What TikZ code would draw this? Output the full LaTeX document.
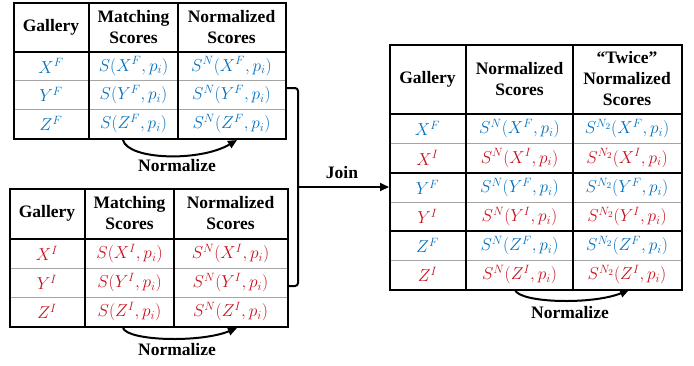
\documentclass[tikz,border=0pt]{standalone}
\usepackage{fontspec}
\setmainfont{Liberation Serif}
\usetikzlibrary{arrows.meta}
\definecolor{fblue}{RGB}{0,112,192}
\definecolor{ired}{RGB}{200,16,30}
\definecolor{gridgray}{RGB}{165,165,165}
\begin{document}
\begin{tikzpicture}[x=1pt,y=-1pt,
  thickline/.style={line width=2pt, draw=black},
  thinline/.style={line width=1pt, draw=gridgray},
  tbox/.style={draw, line width=2pt, inner sep=0pt, anchor=north west},
  hdr/.style={font=\fontsize{17.5}{21}\selectfont\bfseries, align=center, inner sep=0pt},
  cF/.style={font=\fontsize{18}{21}\selectfont, text=fblue, inner sep=0pt},
  cI/.style={font=\fontsize{18}{21}\selectfont, text=ired, inner sep=0pt},
  lbl/.style={font=\fontsize{17.5}{21}\selectfont\bfseries, inner sep=0pt},
  conn/.style={line width=2pt, rounded corners=3pt},
  arr/.style={line width=2pt, -{Triangle[length=9pt,width=8pt]}}]
\useasboundingbox (0,0) rectangle (694,365);
\fill[white] (0,0) rectangle (694,365);

% ---------- Table 1 ----------
\foreach \y in {80,109} \draw[thinline] (13,\y) -- (285,\y);
\node[tbox, minimum width=272pt, minimum height=136pt] (T1) at (13,2) {};
\draw[thickline] (13,52) -- (285,52);
\draw[thickline] (89,2) -- (89,138);
\draw[thickline] (178,2) -- (178,138);
\node[hdr] (t1h1) at (51,27) {Gallery};
\node[hdr] (t1h2) at (133.5,27) {Matching\\Scores};
\node[hdr] (t1h3) at (231.5,27) {Normalized\\Scores};
\node[cF] (t1a1) at (51,66) {$X^F$};
\node[cF] (t1a2) at (133.5,66) {$S(X^F,p_i)$};
\node[cF] (t1a3) at (231.5,66) {$S^N(X^F,p_i)$};
\node[cF] (t1b1) at (51,94.5) {$Y^F$};
\node[cF] (t1b2) at (133.5,94.5) {$S(Y^F,p_i)$};
\node[cF] (t1b3) at (231.5,94.5) {$S^N(Y^F,p_i)$};
\node[cF] (t1c1) at (51,123.5) {$Z^F$};
\node[cF] (t1c2) at (133.5,123.5) {$S(Z^F,p_i)$};
\node[cF] (t1c3) at (231.5,123.5) {$S^N(Z^F,p_i)$};
\coordinate (n1s) at (123,140);
\coordinate (n1e) at (237,140);
\draw[arr] (n1s) .. controls (128,160) and (200,162) .. (n1e);
\node[lbl] (n1l) at (177,166) {Normalize};

% ---------- Table 2 ----------
\foreach \y in {268,297} \draw[thinline] (9,\y) -- (287,\y);
\node[tbox, minimum width=278pt, minimum height=138pt] (T2) at (9,188) {};
\draw[thickline] (9,239) -- (287,239);
\draw[thickline] (85,188) -- (85,326);
\draw[thickline] (174,188) -- (174,326);
\node[hdr] (t2h1) at (47,213.5) {Gallery};
\node[hdr] (t2h2) at (129.5,213.5) {Matching\\Scores};
\node[hdr] (t2h3) at (230.5,213.5) {Normalized\\Scores};
\node[cI] (t2a1) at (47,253.5) {$X^I$};
\node[cI] (t2a2) at (129.5,253.5) {$S(X^I,p_i)$};
\node[cI] (t2a3) at (230.5,253.5) {$S^N(X^I,p_i)$};
\node[cI] (t2b1) at (47,282.5) {$Y^I$};
\node[cI] (t2b2) at (129.5,282.5) {$S(Y^I,p_i)$};
\node[cI] (t2b3) at (230.5,282.5) {$S^N(Y^I,p_i)$};
\node[cI] (t2c1) at (47,311.5) {$Z^I$};
\node[cI] (t2c2) at (129.5,311.5) {$S(Z^I,p_i)$};
\node[cI] (t2c3) at (230.5,311.5) {$S^N(Z^I,p_i)$};
\coordinate (n2s) at (123,328);
\coordinate (n2e) at (237,328);
\draw[arr] (n2s) .. controls (128,341) and (200,343) .. (n2e);
\node[lbl] (n2l) at (177,350) {Normalize};

% ---------- Table 3 ----------
\foreach \y in {143,202,260} \draw[thinline] (389,\y) -- (681,\y);
\node[tbox, minimum width=292pt, minimum height=245pt] (T3) at (389,44) {};
\foreach \y in {114,173,231} \draw[thickline] (389,\y) -- (681,\y);
\draw[thickline] (466,44) -- (466,289);
\draw[thickline] (573,44) -- (573,289);
\node[hdr] (t3h1) at (427.5,79) {Gallery};
\node[hdr] (t3h2) at (519.5,79) {Normalized\\Scores};
\node[hdr] (t3h3) at (627,79) {“Twice”\\Normalized\\Scores};
\node[cF] (t3a1) at (427.5,128.5) {$X^F$};
\node[cF] (t3a2) at (519.5,128.5) {$S^N(X^F,p_i)$};
\node[cF] (t3a3) at (627,128.5) {$S^{N_2}(X^F,p_i)$};
\node[cI] (t3b1) at (427.5,158) {$X^I$};
\node[cI] (t3b2) at (519.5,158) {$S^N(X^I,p_i)$};
\node[cI] (t3b3) at (627,158) {$S^{N_2}(X^I,p_i)$};
\node[cF] (t3c1) at (427.5,187.5) {$Y^F$};
\node[cF] (t3c2) at (519.5,187.5) {$S^N(Y^F,p_i)$};
\node[cF] (t3c3) at (627,187.5) {$S^{N_2}(Y^F,p_i)$};
\node[cI] (t3d1) at (427.5,216.5) {$Y^I$};
\node[cI] (t3d2) at (519.5,216.5) {$S^N(Y^I,p_i)$};
\node[cI] (t3d3) at (627,216.5) {$S^{N_2}(Y^I,p_i)$};
\node[cF] (t3e1) at (427.5,245.5) {$Z^F$};
\node[cF] (t3e2) at (519.5,245.5) {$S^N(Z^F,p_i)$};
\node[cF] (t3e3) at (627,245.5) {$S^{N_2}(Z^F,p_i)$};
\node[cI] (t3f1) at (427.5,274.5) {$Z^I$};
\node[cI] (t3f2) at (519.5,274.5) {$S^N(Z^I,p_i)$};
\node[cI] (t3f3) at (627,274.5) {$S^{N_2}(Z^I,p_i)$};
\coordinate (n3s) at (515,290);
\coordinate (n3e) at (629,290);
\draw[arr] (n3s) .. controls (520,303) and (592,305) .. (n3e);
\node[lbl] (n3l) at (570,313) {Normalize};

% ---------- Join connector ----------
\coordinate (jn) at (298,187);
\draw[conn] ([yshift=-17pt]T1.east) -| (jn) |- ([yshift=-28pt]T2.east);
\draw[arr] (jn) -- (jn -| T3.west);
\node[lbl] (jl) at (342,173) {Join};
\end{tikzpicture}
\end{document}
